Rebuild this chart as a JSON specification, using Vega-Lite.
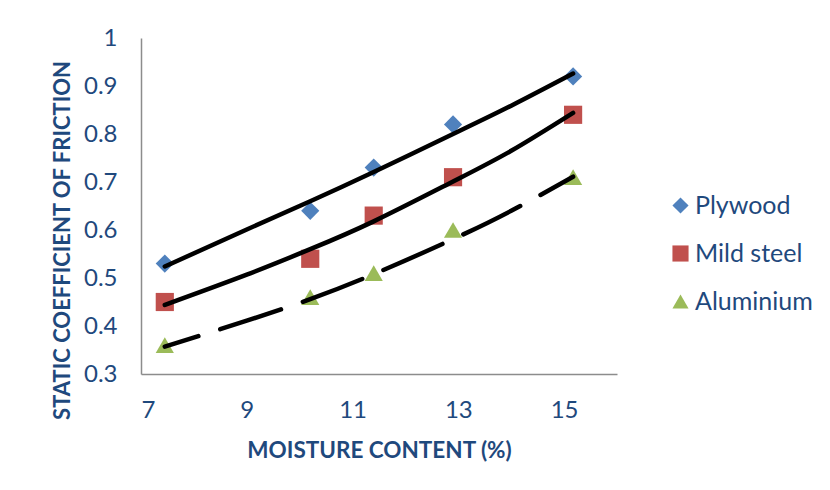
{
  "$schema": "https://vega.github.io/schema/vega-lite/v6.json",
  "width": 476,
  "height": 336,
  "autosize": {"type": "none"},
  "padding": {"left": 141, "top": 38, "right": 213, "bottom": 116},
  "background": "white",
  "config": {
    "view": {"stroke": null},
    "font": "Lato",
    "axis": {
      "grid": false,
      "ticks": false,
      "domainColor": "#8c8c8c",
      "domainWidth": 1.5,
      "labelFont": "Lato",
      "labelFontSize": 24,
      "labelColor": "#1F497D",
      "titleFont": "Lato",
      "titleFontSize": 22,
      "titleFontWeight": "bold",
      "titleColor": "#1F497D"
    },
    "legend": {
      "orient": "none",
      "legendX": 527,
      "legendY": 155,
      "padding": 0,
      "labelFont": "Lato",
      "labelFontSize": 25,
      "labelColor": "#1F497D",
      "symbolSize": 260,
      "symbolStrokeWidth": 0,
      "rowPadding": 22,
      "labelOffset": 2
    }
  },
  "datasets": {
    "points": [
      {"moisture": 7.45, "cof": 0.53, "material": "Plywood"},
      {"moisture": 10.2, "cof": 0.64, "material": "Plywood"},
      {"moisture": 11.4, "cof": 0.73, "material": "Plywood"},
      {"moisture": 12.9, "cof": 0.82, "material": "Plywood"},
      {"moisture": 15.17, "cof": 0.92, "material": "Plywood"},
      {"moisture": 7.45, "cof": 0.45, "material": "Mild steel"},
      {"moisture": 10.2, "cof": 0.54, "material": "Mild steel"},
      {"moisture": 11.4, "cof": 0.63, "material": "Mild steel"},
      {"moisture": 12.9, "cof": 0.71, "material": "Mild steel"},
      {"moisture": 15.17, "cof": 0.84, "material": "Mild steel"},
      {"moisture": 7.45, "cof": 0.36, "material": "Aluminium"},
      {"moisture": 10.2, "cof": 0.46, "material": "Aluminium"},
      {"moisture": 11.4, "cof": 0.51, "material": "Aluminium"},
      {"moisture": 12.9, "cof": 0.60, "material": "Aluminium"},
      {"moisture": 15.17, "cof": 0.71, "material": "Aluminium"}
    ],
    "trend": [
      {"moisture": 7.45, "cof": 0.524, "material": "Plywood"},
      {"moisture": 9, "cof": 0.601, "material": "Plywood"},
      {"moisture": 10.2, "cof": 0.660, "material": "Plywood"},
      {"moisture": 11.4, "cof": 0.721, "material": "Plywood"},
      {"moisture": 12.9, "cof": 0.800, "material": "Plywood"},
      {"moisture": 14, "cof": 0.859, "material": "Plywood"},
      {"moisture": 15.17, "cof": 0.926, "material": "Plywood"},
      {"moisture": 7.45, "cof": 0.444, "material": "Mild steel"},
      {"moisture": 9, "cof": 0.507, "material": "Mild steel"},
      {"moisture": 10.2, "cof": 0.560, "material": "Mild steel"},
      {"moisture": 11.4, "cof": 0.618, "material": "Mild steel"},
      {"moisture": 12.9, "cof": 0.701, "material": "Mild steel"},
      {"moisture": 14, "cof": 0.765, "material": "Mild steel"},
      {"moisture": 15.17, "cof": 0.844, "material": "Mild steel"},
      {"moisture": 7.45, "cof": 0.357, "material": "Aluminium"},
      {"moisture": 9, "cof": 0.411, "material": "Aluminium"},
      {"moisture": 10.2, "cof": 0.456, "material": "Aluminium"},
      {"moisture": 11.4, "cof": 0.508, "material": "Aluminium"},
      {"moisture": 12.9, "cof": 0.581, "material": "Aluminium"},
      {"moisture": 14, "cof": 0.640, "material": "Aluminium"},
      {"moisture": 15.17, "cof": 0.711, "material": "Aluminium"}
    ]
  },
  "encoding": {
    "x": {
      "field": "moisture", "type": "quantitative",
      "scale": {"domain": [7, 16], "nice": false, "zero": false},
      "axis": {
        "title": "MOISTURE CONTENT (%)",
        "values": [7, 9, 11, 13, 15],
        "labelPadding": 24,
        "titleBaseline": "alphabetic",
        "titleY": 83,
        "titleX": 238,
        "titleFontSize": 22.5
      }
    },
    "y": {
      "field": "cof", "type": "quantitative",
      "scale": {"domain": [0.3, 1], "nice": false, "zero": false},
      "axis": {
        "title": "STATIC COEFFICIENT OF FRICTION",
        "values": [0.3, 0.4, 0.5, 0.6, 0.7, 0.8, 0.9, 1],
        "format": "~g",
        "labelPadding": 24,
        "titleBaseline": "middle",
        "titleX": -79,
        "titleY": 202,
        "titleAngle": -90,
        "titleAlign": "center"
      }
    }
  },
  "layer": [
    {
      "data": {"name": "points"},
      "mark": {"type": "point", "filled": true, "opacity": 1, "size": 330},
      "encoding": {
        "shape": {
          "field": "material", "type": "nominal",
          "scale": {"domain": ["Plywood", "Mild steel", "Aluminium"], "range": ["diamond", "square", "triangle-up"]},
          "legend": {"title": null}
        },
        "color": {
          "field": "material", "type": "nominal",
          "scale": {"domain": ["Plywood", "Mild steel", "Aluminium"], "range": ["#4F81BD", "#C0504D", "#9BBB59"]},
          "legend": {"title": null}
        }
      }
    },
    {
      "data": {"name": "trend"},
      "transform": [{"filter": "datum.material !== 'Aluminium'"}],
      "mark": {"type": "line", "color": "black", "strokeWidth": 4.5, "strokeCap": "round", "interpolate": "natural"},
      "encoding": {"detail": {"field": "material", "type": "nominal"}}
    },
    {
      "data": {"name": "trend"},
      "transform": [{"filter": "datum.material === 'Aluminium'"}],
      "mark": {"type": "line", "color": "black", "strokeWidth": 4.5, "strokeCap": "round", "interpolate": "natural", "strokeDash": [64, 23], "strokeDashOffset": 29},
      "encoding": {}
    }
  ]
}
